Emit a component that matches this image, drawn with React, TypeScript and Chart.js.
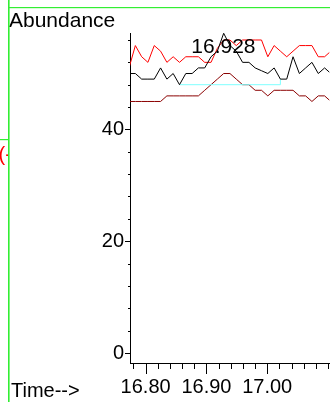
import React, { useEffect, useRef } from 'react';
import { Chart, registerables } from 'chart.js';

Chart.register(...registerables);

const FONT = '"Liberation Sans", Arial, Helvetica, sans-serif';

// Scan times (minutes)
const scanTimes = [
  16.7727, 16.7831, 16.7935, 16.8038, 16.8142, 16.8246, 16.835, 16.8453, 16.8557, 16.8661,
  16.8765, 16.8868, 16.8972, 16.9076, 16.918, 16.9284, 16.9387, 16.9491, 16.9595, 16.9699,
  16.9802, 16.9906, 17.001, 17.0114, 17.0217, 17.0321, 17.0425, 17.0529, 17.0632, 17.0736,
  17.084, 17.0944, 17.1047,
];

// Black trace
const ticAbundance = [
  50, 50, 49, 49, 49, 51, 49, 50, 48, 50,
  50, 51, 51, 53, 54, 57.2, 55, 54, 52, 52,
  51, 50.5, 50, 51, 49, 49, 53, 50, 51, 52,
  50, 51, 50,
];

// Red trace
const upperIonAbundance = [
  51, 55, 53, 52, 55, 54, 52, 53, 52, 53,
  53, 53, 52, 52, 54.5, 56, 56, 55, 56, 56,
  56, 56, 53, 55, 54, 53, 54, 55, 55, 55,
  53, 53, 54,
];

// Dark red trace
const lowerIonAbundance = [
  45, 45, 45, 45, 45, 45, 46, 46, 46, 46,
  46, 46, 47, 48, 49, 50, 50, 49, 48, 48,
  47, 47, 46, 47, 47, 47, 47, 46, 46, 45,
  46, 46, 45,
];

// Cyan integration baseline
const baselineTimes = [16.8557, 17.0217, 17.0217];
const baselineValues = [48, 48, 49];

const peakTime = 16.928;
const peakLabel = '16.928';

const xLabelValues = [16.8, 16.9, 17.0];
const yLabelValues = [0, 20, 40];

const yAxisTitle = 'Abundance';
const xAxisTitle = 'Time-->';
const sideMarker = '(-';

const xMin = 16.7743;
const xMax = 17.1021;
const yMin = -1.79;
const yMax = 57.25;

const isXMajor = (v: number) => xLabelValues.some((m) => Math.abs(m - v) < 1e-6);
const isYMajor = (v: number) => yLabelValues.some((m) => Math.abs(m - v) < 1e-6);

const toPoints = (xs: number[], ys: number[]) => xs.map((x, i) => ({ x, y: ys[i] }));

const decorPlugin = {
  id: 'decor',
  afterDraw(chart: any) {
    const ctx = chart.ctx as CanvasRenderingContext2D;
    const xs = chart.scales.x;
    const ys = chart.scales.y;
    const area = chart.chartArea;
    ctx.save();
    // tick marks
    ctx.strokeStyle = '#000';
    ctx.lineWidth = 1;
    ctx.beginPath();
    xs.ticks.forEach((t: any) => {
      const px = Math.round(xs.getPixelForValue(t.value)) + 0.5;
      const len = isXMajor(t.value) ? 11 : 6;
      ctx.moveTo(px, area.bottom);
      ctx.lineTo(px, area.bottom + len);
    });
    ys.ticks.forEach((t: any) => {
      const py = Math.round(ys.getPixelForValue(t.value)) + 0.5;
      const len = isYMajor(t.value) ? 5 : 2;
      ctx.moveTo(area.left, py);
      ctx.lineTo(area.left - len, py);
    });
    ctx.stroke();

    // texts
    ctx.fillStyle = '#000';
    ctx.textBaseline = 'alphabetic';
    ctx.textAlign = 'left';
    ctx.font = `21px ${FONT}`;
    ctx.fillText(yAxisTitle, 9, 27);
    ctx.font = `20px ${FONT}`;
    ctx.fillText(xAxisTitle, 11, 397);
    ctx.font = `21px ${FONT}`;
    ctx.textAlign = 'center';
    ctx.fillText(peakLabel, xs.getPixelForValue(peakTime), 53);

    // red clipped marker on the left
    ctx.save();
    ctx.beginPath();
    ctx.rect(0, 0, 8, 402);
    ctx.clip();
    ctx.font = `20px ${FONT}`;
    ctx.fillStyle = '#ff0000';
    ctx.textAlign = 'left';
    ctx.fillText(sideMarker, -1.5, 161);
    ctx.restore();

    // green frame lines
    ctx.fillStyle = '#33ee33';
    ctx.fillRect(8, 0, 1.6, 402);
    ctx.fillRect(8, 7, 322, 1.2);
    ctx.fillRect(0, 139, 8, 1.2);
    ctx.restore();
  },
};

export default function App() {
  const ref = useRef<HTMLCanvasElement | null>(null);

  useEffect(() => {
    if (!ref.current) return;
    const chart = new Chart(ref.current, {
      type: 'line',
      data: {
        datasets: [
          {
            data: toPoints(scanTimes, ticAbundance),
            borderColor: '#000000',
            borderWidth: 1,
            pointRadius: 0,
            tension: 0,
          },
          {
            data: toPoints(baselineTimes, baselineValues),
            borderColor: '#7fffff',
            borderWidth: 1,
            pointRadius: 0,
            tension: 0,
          },
          {
            data: toPoints(scanTimes, upperIonAbundance),
            borderColor: '#ff0000',
            borderWidth: 1,
            pointRadius: 0,
            tension: 0,
          },
          {
            data: toPoints(scanTimes, lowerIonAbundance),
            borderColor: '#8b0000',
            borderWidth: 1,
            pointRadius: 0,
            tension: 0,
          },
        ],
      },
      options: {
        animation: false,
        responsive: false,
        devicePixelRatio: 1,
        layout: { padding: { top: 33, left: 0, right: 0, bottom: 0 } },
        plugins: {
          legend: { display: false },
          tooltip: { enabled: false },
          title: { display: false },
        },
        scales: {
          x: {
            type: 'linear',
            position: 'bottom',
            min: xMin,
            max: xMax,
            afterFit: (s: any) => {
              s.height = 39;
            },
            border: { display: true, color: '#000', width: 1 },
            grid: {
              display: true,
              drawOnChartArea: false,
              drawTicks: true,
              tickLength: 10,
              tickColor: 'rgba(0,0,0,0)',
            },
            ticks: {
              stepSize: 0.02,
              includeBounds: false,
              autoSkip: false,
              maxRotation: 0,
              minRotation: 0,
              padding: 2,
              color: '#000',
              font: { family: FONT, size: 20 },
              callback: (v: any) => (isXMajor(Number(v)) ? Number(v).toFixed(2) : ''),
            },
          },
          y: {
            type: 'linear',
            min: yMin,
            max: yMax,
            afterFit: (s: any) => {
              s.width = 130;
            },
            border: { display: true, color: '#000', width: 1 },
            grid: {
              display: true,
              drawOnChartArea: false,
              drawTicks: true,
              tickLength: 4,
              tickColor: 'rgba(0,0,0,0)',
            },
            ticks: {
              stepSize: 4,
              includeBounds: false,
              autoSkip: false,
              padding: 2,
              color: '#000',
              font: { family: FONT, size: 20 },
              callback: (v: any) => (isYMajor(Number(v)) ? String(Math.round(Number(v))) : ''),
            },
          },
        },
      },
      plugins: [decorPlugin],
    });
    return () => chart.destroy();
  }, []);

  return (
    <div style={{ position: 'absolute', left: 0, top: 0, width: 330, height: 402 }}>
      <canvas ref={ref} width={330} height={402} style={{ display: 'block' }} />
    </div>
  );
}
